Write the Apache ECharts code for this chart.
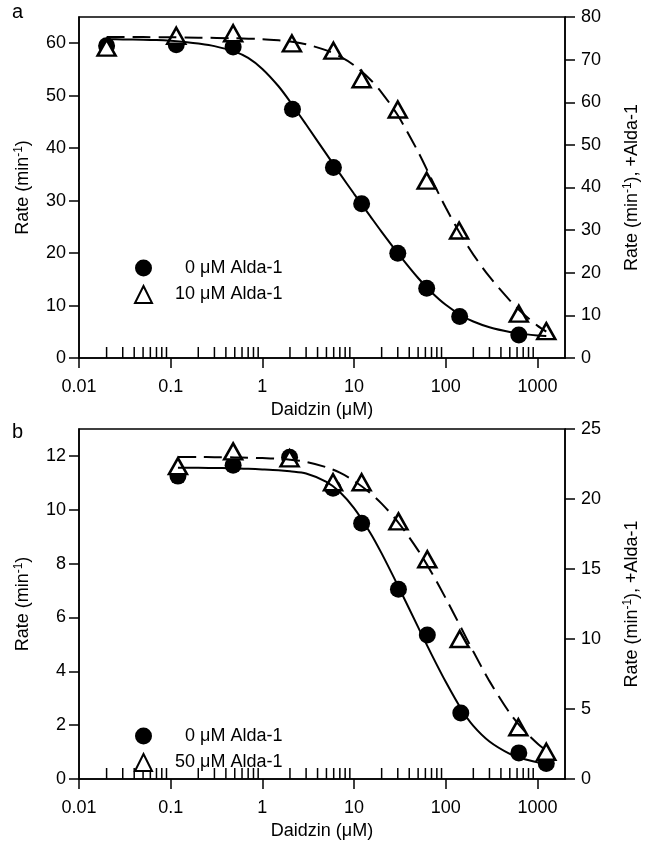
<!DOCTYPE html>
<html><head><meta charset="utf-8">
<script src="https://cdn.jsdelivr.net/npm/echarts@6/dist/echarts.min.js"></script>
<style>html,body{margin:0;padding:0;background:#fff}#c{width:649px;height:851px}</style>
</head><body><div id="c"></div>
<script>
// ---------- data ----------
const xTickValues = [0.01, 0.1, 1, 10, 100, 1000];
const xTickLabels = ['0.01', '0.1', '1', '10', '100', '1000'];
const xMinorTicks = [0.02,0.03,0.04,0.05,0.06,0.07,0.08,0.09,
                     0.2,0.3,0.4,0.5,0.6,0.7,0.8,0.9,
                     2,3,4,5,6,7,8,9,
                     20,30,40,50,60,70,80,90,
                     200,300,400,500,600,700,800,900];
const aLeftTicks = [0, 10, 20, 30, 40, 50, 60];
const aRightTicks = [0, 10, 20, 30, 40, 50, 60, 70, 80];
const bLeftTicks = [0, 2, 4, 6, 8, 10, 12];
const bRightTicks = [0, 5, 10, 15, 20, 25];

// panel a: 0 uM Alda-1 (left axis)
const aX0 = [0.02, 0.115, 0.48, 2.13, 5.96, 12.1, 30, 62, 142, 627];
const aY0 = [59.5, 59.7, 59.3, 47.4, 36.3, 29.4, 19.95, 13.3, 7.9, 4.4];
// panel a: 10 uM Alda-1 (right axis)
const aX10 = [0.02, 0.115, 0.48, 2.1, 5.96, 12.1, 30, 62, 140, 627, 1250];
const aY10 = [72.8, 75.6, 76.2, 73.8, 72.1, 65.4, 58.3, 41.6, 29.9, 10.4, 6.3];
// panel a fitted curves
const aFit0X = [0.02, 0.03, 0.05, 0.07, 0.1, 0.15, 0.2, 0.3, 0.5, 0.7, 1, 1.5, 2, 3, 5, 7, 10, 15, 20, 30, 50, 70, 100, 150, 200, 300, 500, 700, 1000, 1250];
const aFit0Y = [60.75, 60.73, 60.68, 60.6, 60.45, 60.2, 59.95, 59.45, 58.4, 57.2, 55.1, 51.8, 48.9, 44.5, 38.85, 35.15, 31.3, 27.05, 24.05, 20.0, 15.25, 12.55, 10.15, 8.05, 6.95, 5.85, 4.95, 4.6, 4.3, 4.2];
const aFit10X = [0.02, 0.05, 0.1, 0.2, 0.5, 1, 1.5, 2, 3, 5, 7, 10, 15, 20, 30, 50, 70, 100, 150, 200, 300, 500, 700, 1000, 1250];
const aFit10Y = [75.3, 75.28, 75.25, 75.15, 75.0, 74.8, 74.54, 74.26, 73.6, 72.16, 70.77, 68.68, 65.34, 62.28, 56.93, 48.38, 41.96, 35.29, 28.51, 24.26, 19.07, 13.52, 10.38, 7.59, 6.18];

// panel b: 0 uM Alda-1 (left axis)
const bX0 = [0.12, 0.48, 1.98, 5.9, 12.1, 30.5, 63, 146, 627, 1250];
const bY0 = [11.25, 11.65, 11.95, 10.8, 9.5, 7.05, 5.35, 2.45, 0.97, 0.58];
// panel b: 50 uM Alda-1 (right axis)
const bX50 = [0.12, 0.48, 1.98, 5.9, 12.1, 30.5, 63, 142, 620, 1250];
const bY50 = [22.35, 23.4, 22.9, 21.2, 21.2, 18.4, 15.7, 10.0, 3.7, 1.95];
// panel b fitted curves
const bFit0X = [0.12, 0.2, 0.3, 0.5, 0.7, 1, 1.5, 2, 3, 5, 7, 10, 15, 20, 30, 50, 70, 100, 150, 200, 300, 500, 700, 1000, 1250];
const bFit0Y = [11.56, 11.56, 11.55, 11.54, 11.52, 11.5, 11.47, 11.43, 11.35, 11.04, 10.66, 10.06, 9.15, 8.38, 7.19, 5.64, 4.63, 3.61, 2.56, 1.97, 1.39, 0.93, 0.75, 0.62, 0.56];
const bFit50X = [0.12, 0.2, 0.3, 0.5, 0.7, 1, 1.5, 2, 3, 5, 7, 10, 15, 20, 30, 50, 70, 100, 150, 200, 300, 500, 700, 1000, 1250];
const bFit50Y = [23.0, 23.0, 22.99, 22.97, 22.95, 22.92, 22.87, 22.81, 22.65, 22.27, 21.88, 21.3, 20.43, 19.67, 18.37, 16.33, 14.75, 12.91, 10.7, 9.11, 6.99, 4.71, 3.53, 2.54, 2.04];

// ---------- chart ----------
const FONT = '"Liberation Sans", Arial, Helvetica, sans-serif';
const zip = (xs, ys) => xs.map((x, i) => [x, ys[i]]);
const BLACK = '#000';

function xLabel(v) {
  let best = 0;
  xTickValues.forEach((t, i) => { if (Math.abs(Math.log10(t) - Math.log10(v)) < Math.abs(Math.log10(xTickValues[best]) - Math.log10(v))) best = i; });
  return xTickLabels[best];
}

function xAxisCfg(gridIndex) {
  return {
    type: 'log', logBase: 10, gridIndex, min: 0.01, max: 2000,
    name: 'Daidzin (μM)', nameLocation: 'middle', nameGap: 43,
    nameTextStyle: { fontSize: 18, color: BLACK, fontFamily: FONT },
    axisLine: { show: true, onZero: false, lineStyle: { color: BLACK, width: 1.5 } },
    axisTick: { show: true, inside: false, length: 10, lineStyle: { color: BLACK, width: 1.5 }, customValues: xTickValues },
    axisLabel: { show: true, margin: 20, fontSize: 18, color: BLACK, fontFamily: FONT, customValues: xTickValues, formatter: xLabel },
    splitLine: { show: false }, minorTick: { show: false }, minorSplitLine: { show: false }
  };
}
const supRich = { sup: { fontSize: 12, verticalAlign: 'top', fontFamily: FONT, color: BLACK, padding: [0, 0, 8, 0] } };
function yAxisCfg(gridIndex, position, max, ticks, name, gap) {
  return {
    type: 'value', gridIndex, position, min: 0, max,
    name, nameLocation: 'middle', nameGap: gap, nameRotate: 90,
    nameTextStyle: { fontSize: 18, color: BLACK, fontFamily: FONT, rich: supRich },
    axisLine: { show: true, onZero: false, lineStyle: { color: BLACK, width: 1.5 } },
    axisTick: { show: true, inside: false, length: 10, lineStyle: { color: BLACK, width: 1.5 }, customValues: ticks },
    axisLabel: { show: true, margin: position === 'left' ? 13 : 16, fontSize: 18, color: BLACK, fontFamily: FONT, customValues: ticks },
    splitLine: { show: false }
  };
}

function minorTickSeries(xi, yi) {
  return {
    type: 'custom', xAxisIndex: xi, yAxisIndex: yi, silent: true, z: 1,
    data: xMinorTicks.map(v => [v, 0]),
    renderItem: (params, api) => {
      const p = api.coord([api.value(0), 0]);
      return { type: 'line', shape: { x1: p[0], y1: p[1], x2: p[0], y2: p[1] - 11 },
               style: { stroke: BLACK, lineWidth: 1.5 } };
    }
  };
}
function dots(name, xi, yi, xs, ys) {
  return { type: 'scatter', name, xAxisIndex: xi, yAxisIndex: yi, data: zip(xs, ys),
    symbol: 'circle', symbolSize: 17, itemStyle: { color: BLACK, opacity: 1 }, z: 2 };
}
function tris(name, xi, yi, xs, ys) {
  return { type: 'scatter', name, xAxisIndex: xi, yAxisIndex: yi, data: zip(xs, ys),
    symbol: 'triangle', symbolSize: [18, 16],
    itemStyle: { color: '#fff', borderColor: BLACK, borderWidth: 2.5, opacity: 1 }, z: 3 };
}
function curve(name, xi, yi, xs, ys, dashed) {
  return { type: 'line', name, xAxisIndex: xi, yAxisIndex: yi, data: zip(xs, ys),
    smooth: 0.3, showSymbol: false, symbol: 'none', silent: true, z: 4,
    lineStyle: { color: BLACK, width: 2, type: dashed ? [18, 8] : 'solid' } };
}
const legendRich = {
  n1: { padding: [0, 0, 0, 28], fontSize: 18, fontFamily: FONT, color: BLACK },
  n2: { padding: [0, 0, 0, 18], fontSize: 18, fontFamily: FONT, color: BLACK },
  t: { fontSize: 18, fontFamily: FONT, color: BLACK }
};
function legendCfg(top, names) {
  return {
    orient: 'vertical', left: 134, top, itemWidth: 17, itemHeight: 17, itemGap: 8,
    selectedMode: false, padding: 0, data: names,
    formatter: name => {
      const m = name.match(/^(\S+) (.*)$/);
      return '{' + (m[1].length > 1 ? 'n2' : 'n1') + '|' + m[1] + '}{t| ' + m[2] + '}';
    },
    textStyle: { fontSize: 18, fontFamily: FONT, color: BLACK, rich: legendRich }
  };
}

const RATE = 'Rate (min{sup|-1})';
const RATE2 = 'Rate (min{sup|-1}), +Alda-1';

const option = {
  animation: false,
  backgroundColor: '#fff',
  grid: [
    { left: 79, right: 83, top: 17, height: 341, show: true, borderColor: BLACK, borderWidth: 1.5, containLabel: false },
    { left: 79, right: 83, top: 429, height: 350, show: true, borderColor: BLACK, borderWidth: 1.5, containLabel: false }
  ],
  xAxis: [xAxisCfg(0), xAxisCfg(1)],
  yAxis: [
    yAxisCfg(0, 'left', 65, aLeftTicks, RATE, 46),
    yAxisCfg(0, 'right', 80, aRightTicks, RATE2, 57),
    yAxisCfg(1, 'left', 13, bLeftTicks, RATE, 46),
    yAxisCfg(1, 'right', 25, bRightTicks, RATE2, 57)
  ],
  legend: [
    legendCfg(259, ['0 μM Alda-1', '10 μM Alda-1']),
    legendCfg(727, ['0 μM Alda-1', '50 μM Alda-1'])
  ],
  graphic: [
    { type: 'text', x: 12, y: 22, style: { text: 'a', fontSize: 20, fontFamily: FONT, fill: BLACK, verticalAlign: 'bottom' } },
    { type: 'text', x: 12, y: 442, style: { text: 'b', fontSize: 20, fontFamily: FONT, fill: BLACK, verticalAlign: 'bottom' } }
  ],
  series: [
    minorTickSeries(0, 0),
    minorTickSeries(1, 2),
    dots('0 μM Alda-1', 0, 0, aX0, aY0),
    tris('10 μM Alda-1', 0, 1, aX10, aY10),
    curve('fitA0', 0, 0, aFit0X, aFit0Y, false),
    curve('fitA10', 0, 1, aFit10X, aFit10Y, true),
    dots('0 μM Alda-1', 1, 2, bX0, bY0),
    tris('50 μM Alda-1', 1, 3, bX50, bY50),
    curve('fitB0', 1, 2, bFit0X, bFit0Y, false),
    curve('fitB50', 1, 3, bFit50X, bFit50Y, true)
  ]
};
const chart = echarts.init(document.getElementById('c'));
chart.setOption(option);
</script>
</body></html>
